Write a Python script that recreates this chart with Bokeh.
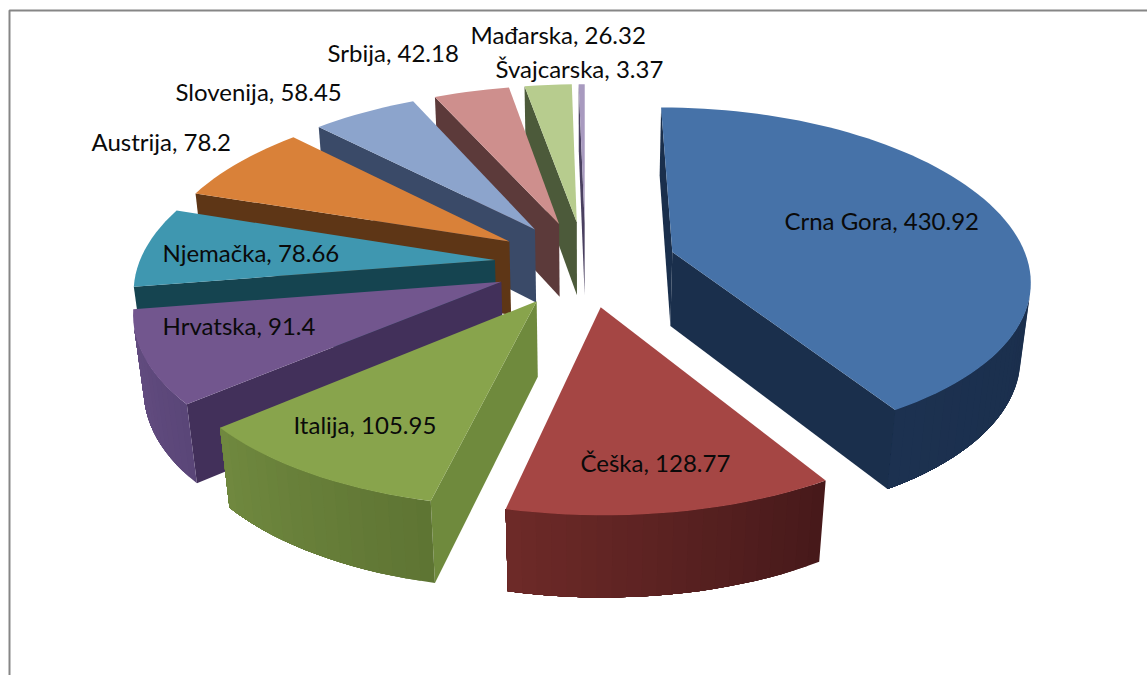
import math
from bokeh.plotting import figure
from bokeh.embed import file_html
from bokeh.resources import INLINE
from bokeh.core.properties import value
from bokeh.models import Range1d

# ---- data
names = ["Crna Gora", "Češka", "Italija", "Hrvatska", "Njemačka", "Austrija",
         "Slovenija", "Srbija", "Mađarska", "Švajcarska"]
values = [430.92, 128.77, 105.95, 91.4, 78.66, 78.2, 58.45, 42.18, 26.32, 3.37]
value_texts = ["430.92", "128.77", "105.95", "91.4", "78.66", "78.2", "58.45", "42.18", "26.32", "3.37"]

# ---- styles
top_col = ["#4672A8", "#A54644", "#88A44C", "#72568E", "#3F97B0", "#D98139",
           "#8CA4CC", "#CE8F8D", "#B7CC8E", "#A89ABF"]
cut_col = ["#1A2F4C", "#4E1E1C", "#6F8A3D", "#42305A", "#154450", "#5E3616",
           "#3A4A68", "#5C3A3A", "#4C5A3A", "#4A4060"]
wall_a = ["#172A45", "#46191A", "#5E7433", "#5A4678", "#1E5565", "#6E4018",
          "#3A4A68", "#5C3A3A", "#4C5A3A", "#4A4060"]   # at start of slice
wall_b = ["#1C3150", "#6E2A28", "#70893F", "#654E82", "#22606F", "#7A4A20",
          "#3A4A68", "#5C3A3A", "#4C5A3A", "#4A4060"]   # at end of slice
label_xy = [(784, 220), (580, 462), (293, 424), (162, 325), (162, 252), (91, 141),
            (175, 91), (327, 52), (470, 34), (495, 68)]

# ---- projection
CX, CY = 585.0, 263.0
AX, AY = 356.0, 167.0
PERSP_X, PERSP_Y, DROP, DEPTH = 0.15, 0.135, 0.023, 76.0
EXPLODE = 0.256
W, H = 1147, 675


def proj(X, Y, z):
    wx = 1 - PERSP_X * Y + DROP * z
    wy = 1 - PERSP_Y * Y + DROP * z
    return CX + AX * X / wx, CY + (AY * Y + DEPTH * z) / wy


def area(pts):
    s = 0.0
    for i in range(len(pts)):
        x0, y0 = pts[i]
        x1, y1 = pts[(i + 1) % len(pts)]
        s += x0 * y1 - x1 * y0
    return s


def mix(c1, c2, f):
    a = [int(c1[i:i + 2], 16) for i in (1, 3, 5)]
    b = [int(c2[i:i + 2], 16) for i in (1, 3, 5)]
    return "#%02x%02x%02x" % tuple(round(p + (q - p) * f) for p, q in zip(a, b))


total = sum(values)
slices = []
t = 0.0
for i, v in enumerate(values):
    sweep = 2 * math.pi * v / total
    slices.append((i, t, t + sweep))
    t += sweep

# far slices first
slices.sort(key=lambda s: -math.cos((s[1] + s[2]) / 2))

xs, ys, cols = [], [], []


def add(pts, col):
    xs.append([q[0] for q in pts])
    ys.append([q[1] for q in pts])
    cols.append(col)


for i, t0, t1 in slices:
    mid = (t0 + t1) / 2
    ox, oy = EXPLODE * math.sin(mid), -EXPLODE * math.cos(mid)

    def rim(tt, z):
        return proj(ox + math.sin(tt), oy - math.cos(tt), z)

    apex_t, apex_b = proj(ox, oy, 0), proj(ox, oy, 1)
    n = max(2, int((t1 - t0) / math.radians(2)))
    ts = [t0 + (t1 - t0) * k / n for k in range(n + 1)]

    # cut faces
    face = [apex_t, rim(t0, 0), rim(t0, 1), apex_b]
    if area(face) < 0:
        add(face, cut_col[i])
    face = [apex_t, rim(t1, 0), rim(t1, 1), apex_b]
    if area(face) > 0:
        add(face, cut_col[i])
    # outer wall: each band runs on to the wall's end, so no seams show
    seen = [k for k in range(n)
            if area([rim(ts[k], 0), rim(ts[k + 1], 0), rim(ts[k + 1], 1), rim(ts[k], 1)]) < 0]
    for k in seen:
        run = ts[k:seen[-1] + 2]
        band = [rim(tt, 0) for tt in run] + [rim(tt, 1) for tt in reversed(run)]
        add(band, mix(wall_a[i], wall_b[i], (k + 0.5) / n))
    # top
    add([apex_t] + [rim(tt, 0) for tt in ts], top_col[i])

p = figure(width=W, height=H, output_backend="svg", toolbar_location=None,
           x_range=Range1d(0, W), y_range=Range1d(H, 0),
           min_border=0, outline_line_color=None, background_fill_color="white")
p.axis.visible = False
p.grid.visible = False

# chart frame: left and top only
p.line([9, 9, W], [H, 10, 10], line_color="#868686", line_width=2)

p.patches(xs, ys, fill_color=cols, line_color=None)

labels = [f"{n}, {v}" for n, v in zip(names, value_texts)]
p.text([q[0] for q in label_xy], [q[1] for q in label_xy], text=labels,
       text_font=value("Lato"), text_font_size="24px", text_color="#0a0a0a",
       text_align="left", text_baseline="middle")

open("out.html", "w").write(file_html(p, INLINE))
